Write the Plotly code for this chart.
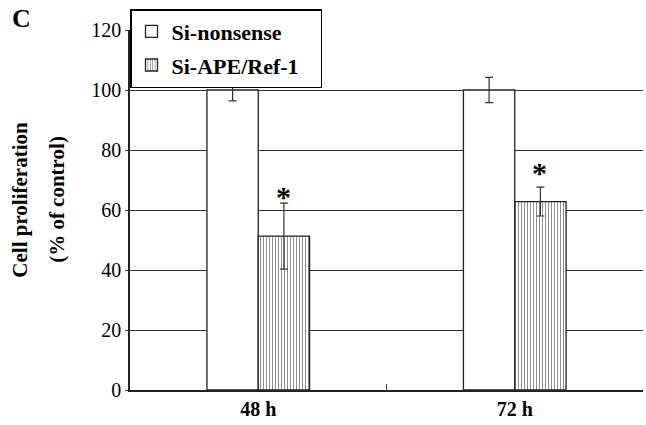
import plotly.graph_objects as go

# Data
time_points = ['48 h', '72 h']
nonsense_mean = [100, 100]
nonsense_sd = [3.6, 4.2]
ape_mean = [51.3, 62.8]
ape_sd = [11.0, 4.8]
significant = ['*', '*']
star_level = [66.5, 74.5]
y_ticks = [0, 20, 40, 60, 80, 100, 120]

serif = 'Liberation Serif, Times New Roman, serif'

fig = go.Figure()

# Si-nonsense: plain white bars
fig.add_trace(go.Bar(
    x=time_points, y=nonsense_mean, name='Si-nonsense', legendgroup='a',
    marker=dict(color='white', line=dict(color='#222', width=1.3)),
    error_y=dict(type='data', array=nonsense_sd, color='#333', thickness=1.2, width=4),
))

# Si-APE/Ref-1: vertically hatched bars
fig.add_trace(go.Bar(
    x=time_points, y=ape_mean, name='Si-APE/Ref-1', legendgroup='b',
    marker=dict(color='white', line=dict(color='#222', width=1.3),
                pattern=dict(shape='|', fgcolor='#222', bgcolor='white', size=3, solidity=0.35)),
    error_y=dict(type='data', array=ape_sd, color='#333', thickness=1.2, width=4),
))

# Significance asterisks above the hatched bars
for t, lvl, star in zip(time_points, star_level, significant):
    fig.add_annotation(x=t, y=lvl, text='<b>' + star + '</b>', showarrow=False, xshift=25,
                       yanchor='middle', yshift=-6,
                       font=dict(family=serif, size=30, color='black'))

# Panel letter
fig.add_annotation(x=-0.233, y=1.077, xref='paper', yref='paper', xanchor='left', yanchor='top',
                   text='<b>C</b>', showarrow=False, font=dict(family=serif, size=26, color='black'))

# Y axis title, two rotated lines
for xpos, line in [(-0.2135, 'Cell proliferation'), (-0.141, '(% of control)')]:
    fig.add_annotation(x=xpos, y=0.53, xref='paper', yref='paper', textangle=-90,
                       xanchor='center', yanchor='middle',
                       text='<b>' + line + '</b>', showarrow=False,
                       font=dict(family=serif, size=21, color='black'))

fig.update_layout(
    width=646, height=425,
    margin=dict(l=130, r=3, t=30, b=35),
    paper_bgcolor='white', plot_bgcolor='white',
    barmode='group', bargap=0.6, bargroupgap=0,
    font=dict(family=serif, size=18, color='black'),
    showlegend=True,
    legend=dict(x=0, y=1.058, xanchor='left', yanchor='top',
                bgcolor='white', bordercolor='black', borderwidth=1.5,
                font=dict(family=serif, size=22, color='black'),
                tracegroupgap=2, itemwidth=30),
)

fig.update_xaxes(
    showline=True, linecolor='#222', linewidth=1.5,
    ticks='inside', tickcolor='#444', ticklen=6, tickson='boundaries',
    tickfont=dict(family=serif, size=20, color='black'),
    tickprefix='<b>', ticksuffix='</b>', showgrid=False,
)
fig.update_yaxes(
    range=[0, 120], tickvals=y_ticks,
    showline=True, linecolor='#222', linewidth=1.5,
    showgrid=True, gridcolor='#333', gridwidth=1.2,
    ticks='outside', ticklen=3, tickcolor='#444',
    tickfont=dict(family=serif, size=20, color='black'),
    zeroline=False,
)

# legend labels in bold, with a little right padding
for tr in fig.data:
    tr.name = '<b>' + tr.name + '</b>&nbsp;&nbsp;&nbsp;'

fig.write_html("out.html", config={'displayModeBar': False},
               post_script="document.body.style.margin='0';document.body.style.overflow='hidden';")
